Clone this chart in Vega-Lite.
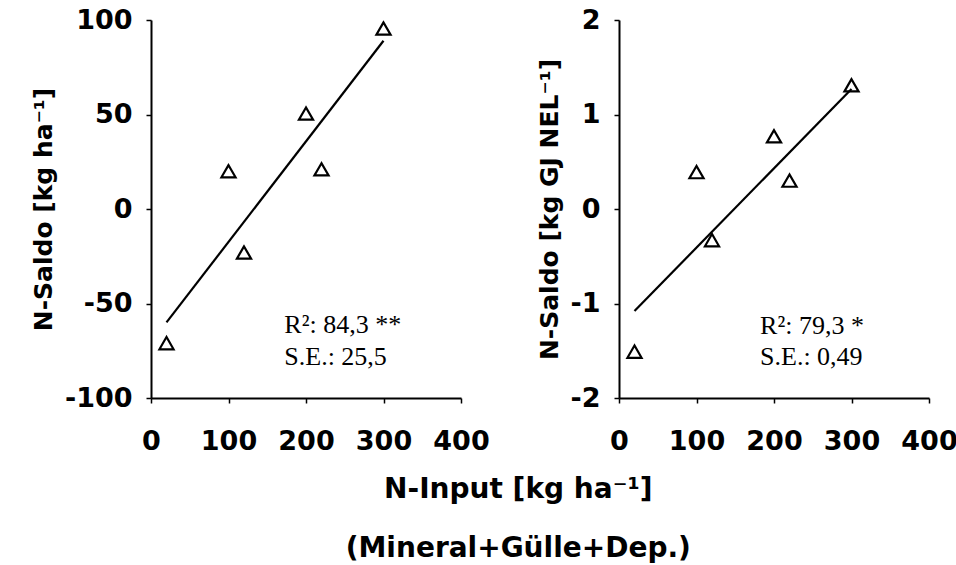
{
  "$schema": "https://vega.github.io/schema/vega-lite/v6.json",
  "background": "white",
  "padding": {"left": 31, "top": 6, "right": 0, "bottom": 0},
  "spacing": 47,
  "config": {
    "view": {"stroke": null},
    "axis": {
      "grid": false,
      "domainColor": "black",
      "domainWidth": 2,
      "tickColor": "black",
      "tickWidth": 1.5,
      "tickSize": 5,
      "labelFont": "DejaVu Sans",
      "labelFontSize": 27,
      "labelFontWeight": "bold",
      "labelColor": "black",
      "labelOverlap": false,
      "labelFlush": false,
      "labelExpr": "datum.value < 0 ? '-' + abs(datum.value) : '' + datum.value",
      "titleFont": "DejaVu Sans",
      "titleFontSize": 25,
      "titleFontWeight": "bold",
      "titleColor": "black"
    },
    "axisX": {"labelPadding": 25, "title": null},
    "axisY": {"labelPadding": 14, "titlePadding": 8}
  },
  "datasets": {
    "leftPoints": [
      {"input": 20, "saldo": -71},
      {"input": 100, "saldo": 20},
      {"input": 120, "saldo": -23},
      {"input": 200, "saldo": 50.5},
      {"input": 220, "saldo": 21},
      {"input": 300, "saldo": 95.5}
    ],
    "leftFit": [
      {"input": 20, "saldo": -60},
      {"input": 300, "saldo": 89}
    ],
    "leftStats": [
      {"input": 172, "saldo": -65.8, "label": "R²: 84,3 **"},
      {"input": 172, "saldo": -82.5, "label": "S.E.: 25,5"}
    ],
    "rightPoints": [
      {"input": 20, "saldo": -1.51},
      {"input": 100, "saldo": 0.39},
      {"input": 120, "saldo": -0.33},
      {"input": 200, "saldo": 0.77},
      {"input": 220, "saldo": 0.3},
      {"input": 300, "saldo": 1.31}
    ],
    "rightFit": [
      {"input": 20, "saldo": -1.08},
      {"input": 300, "saldo": 1.27}
    ],
    "rightStats": [
      {"input": 182, "saldo": -1.32, "label": "R²: 79,3 *"},
      {"input": 182, "saldo": -1.655, "label": "S.E.: 0,49"}
    ]
  },
  "hconcat": [
    {
      "width": 310,
      "height": 378,
      "encoding": {
        "x": {"field": "input", "type": "quantitative", "scale": {"domain": [0, 400], "nice": false}, "axis": {"values": [0, 100, 200, 300, 400]}},
        "y": {"field": "saldo", "type": "quantitative", "scale": {"domain": [-100, 100], "nice": false}, "axis": {"values": [-100, -50, 0, 50, 100], "title": "N-Saldo [kg ha⁻¹]"}}
      },
      "layer": [
        {"data": {"name": "leftFit"}, "mark": {"type": "line", "color": "black", "strokeWidth": 2.2}},
        {"data": {"name": "leftPoints"}, "mark": {"type": "point", "shape": "triangle-up", "filled": false, "size": 200, "stroke": "black", "strokeWidth": 2.2, "opacity": 1}},
        {"data": {"name": "leftStats"}, "mark": {"type": "text", "align": "left", "baseline": "alphabetic", "font": "Liberation Serif", "fontSize": 26, "color": "black"}, "encoding": {"text": {"field": "label"}}}
      ]
    },
    {
      "width": 310,
      "height": 378,
      "encoding": {
        "x": {"field": "input", "type": "quantitative", "scale": {"domain": [0, 400], "nice": false}, "axis": {"values": [0, 100, 200, 300, 400]}},
        "y": {"field": "saldo", "type": "quantitative", "scale": {"domain": [-2, 2], "nice": false}, "axis": {"values": [-2, -1, 0, 1, 2], "title": "N-Saldo [kg GJ NEL⁻¹]"}}
      },
      "layer": [
        {"data": {"name": "rightFit"}, "mark": {"type": "line", "color": "black", "strokeWidth": 2.2}},
        {"data": {"name": "rightPoints"}, "mark": {"type": "point", "shape": "triangle-up", "filled": false, "size": 200, "stroke": "black", "strokeWidth": 2.2, "opacity": 1}},
        {"data": {"name": "rightStats"}, "mark": {"type": "text", "align": "left", "baseline": "alphabetic", "font": "Liberation Serif", "fontSize": 26, "color": "black"}, "encoding": {"text": {"field": "label"}}}
      ]
    }
  ],
  "title": {
    "text": ["N-Input [kg ha⁻¹]", "(Mineral+Gülle+Dep.)"],
    "orient": "bottom",
    "anchor": "middle",
    "font": "DejaVu Sans",
    "fontSize": 28,
    "fontWeight": "bold",
    "color": "black",
    "lineHeight": 59,
    "offset": 22,
    "dx": 24
  }
}
